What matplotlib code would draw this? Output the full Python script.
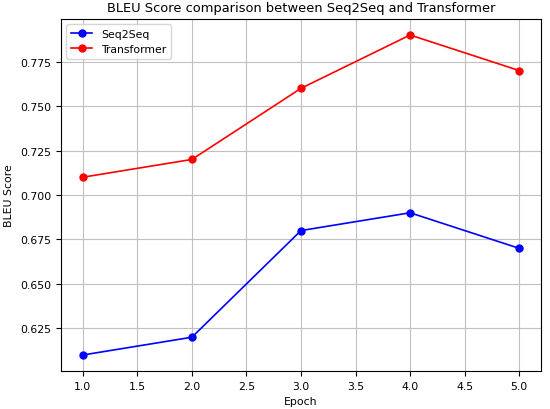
import matplotlib
matplotlib.use("Agg")
import matplotlib.pyplot as plt

epochs = [1, 2, 3, 4, 5]
seq2seq = [0.61, 0.62, 0.68, 0.69, 0.67]
transformer = [0.71, 0.72, 0.76, 0.79, 0.77]

fig = plt.figure(figsize=(5.5, 4.1), dpi=100)
ax = fig.add_axes([61/550, 1 - 372/410, (541-61)/550, (372-20)/410])
ax.plot(epochs, seq2seq, marker='o', color='blue', label='Seq2Seq', lw=1.2, ms=5)
ax.plot(epochs, transformer, marker='o', color='red', label='Transformer', lw=1.2, ms=5)
ax.set_title('BLEU Score comparison between Seq2Seq and Transformer', fontsize=9.4)
ax.set_xlabel('Epoch', fontsize=7.8)
ax.set_ylabel('BLEU Score', fontsize=7.8)
ax.tick_params(labelsize=7.8)
ax.grid(True, color='#c0c0c0')
ax.legend(loc='upper left', fontsize=7.8)
fig.savefig('out.png', dpi=100)
